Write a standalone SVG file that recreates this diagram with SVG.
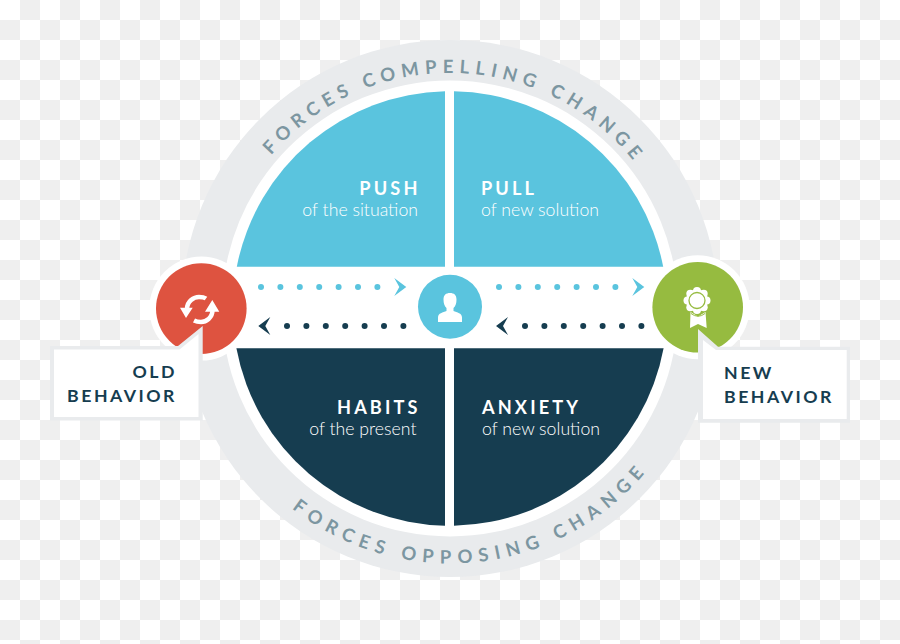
<svg xmlns="http://www.w3.org/2000/svg" width="900" height="644" viewBox="0 0 900 644">
  <style>
    .head { font: 700 18.2px Lato, "Liberation Sans", sans-serif; letter-spacing: 3.1px; }
    .sub { font: 300 17.7px Lato, "Liberation Sans", sans-serif; }
    .light { fill: #ffffff; }
    .navy { fill: #163d50; }
    .sky { fill: #5ac4de; }
    .tag { font: 700 17.7px Lato, "Liberation Sans", sans-serif; letter-spacing: 2.5px; fill: #163d50; }
    .arc { font: 700 18.500px Lato, "Liberation Sans", sans-serif; fill: #7c96a1; }
    .frame { fill: #e9ebed; }
  </style>
  <defs>
    <pattern id="checks" width="40" height="40" patternUnits="userSpaceOnUse">
      <rect width="40" height="40" fill="#ffffff"/>
      <rect x="20" width="20" height="20" fill="#efefef"/>
      <rect y="20" width="20" height="20" fill="#efefef"/>
    </pattern>
    <path id="topArc" d="M219.2 261.5A235.5 235.5 0 0 1 682.9 273.7"/>
    <path id="bottomArc" d="M205.4 380.5A255 255 0 0 0 704.5 324.5"/>
    <g id="dots">
      <circle cx="0" r="3"/><circle cx="19.4" r="3"/><circle cx="38.8" r="3"/><circle cx="58.2" r="3"/><circle cx="77.6" r="3"/><circle cx="97" r="3"/><circle cx="116.4" r="3"/>
    </g>
    <path id="chevronRight" d="M0-9 12 0 0 9 5 0Z"/>
    <path id="chevronLeft" d="M12-9 0 0 12 9 7 0Z"/>
  </defs>

  <rect width="900" height="644" fill="url(#checks)"/>

  <g id="ring">
    <circle cx="450" cy="308.5" r="268.5" fill="#e9ebed"/>
    <circle cx="450" cy="308.5" r="228" fill="#ffffff"/>
    <text class="arc" letter-spacing="5.95"><textPath href="#topArc" startOffset="50%" text-anchor="middle">FORCES COMPELLING CHANGE</textPath></text>
    <text class="arc" letter-spacing="6.6"><textPath href="#bottomArc" startOffset="50%" text-anchor="middle">FORCES OPPOSING CHANGE</textPath></text>
  </g>

  <g id="push">
    <path class="sky" d="M445 266.7H236.8A217.3 217.3 0 0 1 445 91.3Z"/>
    <text class="head light" x="420.500" y="194.700" text-anchor="end">PUSH</text>
    <text class="sub light" x="418" y="215.700" text-anchor="end">of the situation</text>
  </g>
  <g id="pull">
    <path class="sky" d="M454 91.3A217.3 217.3 0 0 1 663.2 266.7H454Z"/>
    <text class="head light" x="481" y="194.700">PULL</text>
    <text class="sub light" x="481" y="215.700">of new solution</text>
  </g>
  <g id="habits">
    <path class="navy" d="M445 348.3H236.4A217.3 217.3 0 0 0 445 525.7Z"/>
    <text class="head light" x="420.500" y="413.700" text-anchor="end">HABITS</text>
    <text class="sub light" x="416.500" y="435.200" text-anchor="end">of the present</text>
  </g>
  <g id="anxiety">
    <path class="navy" d="M454 525.7A217.3 217.3 0 0 0 663.6 348.3H454Z"/>
    <text class="head light" x="482" y="413.700">ANXIETY</text>
    <text class="sub light" x="482" y="435.200">of new solution</text>
  </g>

  <g id="connectors">
    <use href="#dots" class="sky" x="261" y="287"/>
    <use href="#chevronRight" class="sky" x="394.300" y="287"/>
    <use href="#dots" class="sky" x="499" y="287"/>
    <use href="#chevronRight" class="sky" x="632.300" y="287"/>
    <use href="#dots" class="navy" x="287" y="326"/>
    <use href="#chevronLeft" class="navy" x="258.300" y="326"/>
    <use href="#dots" class="navy" x="525" y="326"/>
    <use href="#chevronLeft" class="navy" x="496" y="326"/>
  </g>

  <g id="person">
    <circle class="sky" cx="450" cy="306.700" r="32"/>
    <path class="light" d="M443.500 299.500C443.500 295 446 293 450 293S456.500 295 456.500 299.500C456.500 303.500 455.500 306 453.500 308V311C457 312.500 462 313 462 317.500V322H438V317.500C438 313 443 312.500 446.500 311V308C444.500 306 443.500 303.500 443.500 299.500Z"/>
  </g>

  <g id="old-behavior">
    <circle cx="201.300" cy="308.600" r="52" fill="#ffffff"/>
    <circle cx="201.300" cy="308.600" r="45.300" fill="#de5340"/>
    <g fill="none" stroke="#ffffff" stroke-width="4.500">
      <path d="M187 309C187 301 194 297 199 297 202 297 204.500 297.500 206 298.500"/>
      <path d="M212.500 310C212.500 318 206 322 201 322 198 322 196 321.500 194 320.500"/>
    </g>
    <path class="light" d="M180 307.700H192.700L186 318ZM205 311.700H219.300L212.300 300Z"/>
    <path class="frame" d="M50 346H178L202.700 326V420.500H50Z"/>
    <path class="light" d="M54 349.500H179.500L198.500 334V417H54Z"/>
    <text class="tag" x="177" y="377.500" text-anchor="end">OLD</text>
    <text class="tag" x="177" y="401.500" text-anchor="end">BEHAVIOR</text>
  </g>

  <g id="new-behavior">
    <circle cx="697.700" cy="307.300" r="52" fill="#ffffff"/>
    <circle cx="697.700" cy="307.300" r="45.300" fill="#96bb40"/>
    <g class="light">
      <circle cx="697" cy="300.500" r="11"/>
      <circle cx="697" cy="291" r="4"/><circle cx="703.700" cy="293.800" r="4"/><circle cx="706.500" cy="300.500" r="4"/><circle cx="703.700" cy="307.200" r="4"/><circle cx="697" cy="310" r="4"/><circle cx="690.300" cy="307.200" r="4"/><circle cx="687.500" cy="300.500" r="4"/><circle cx="690.300" cy="293.800" r="4"/>
      <path d="M690.500 312 698 316.500 705.500 312 706.700 328 698 324 690 328Z"/>
    </g>
    <circle cx="697" cy="300.500" r="8" fill="#ffffff" stroke="#96bb40" stroke-width="1.300"/>
    <path d="M691 313.500Q698 319 705 313.500" fill="none" stroke="#96bb40" stroke-width="1"/>
    <path class="frame" d="M698 329 718 346.700H850V422.700H698Z"/>
    <path class="light" d="M703 340 716 350H846.700V419H703Z"/>
    <text class="tag" x="724" y="378.500">NEW</text>
    <text class="tag" x="724" y="402.500">BEHAVIOR</text>
  </g>
</svg>
